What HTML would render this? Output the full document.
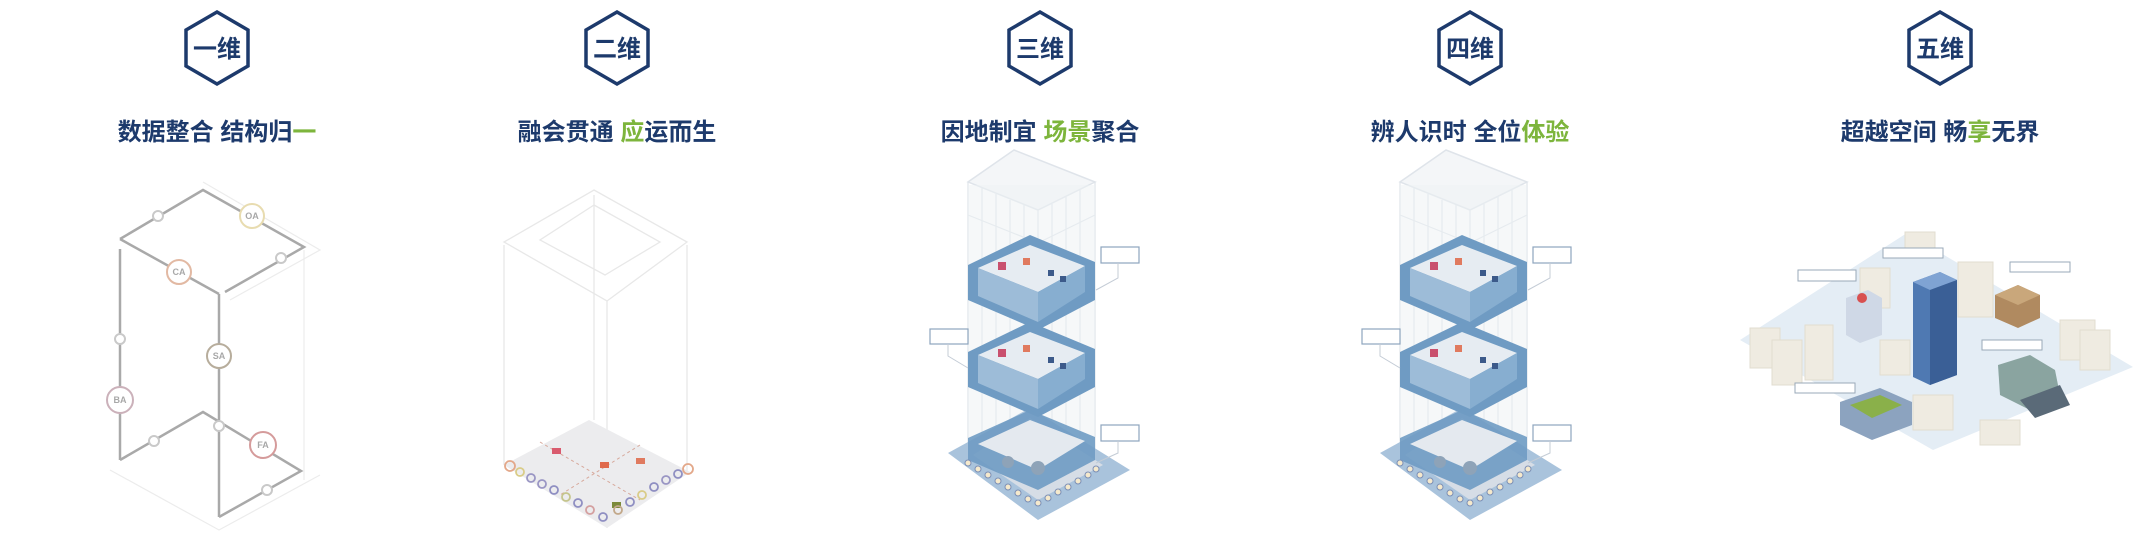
<!DOCTYPE html>
<html><head><meta charset="utf-8"><style>
html,body{margin:0;padding:0;background:#fff;}
svg{display:block}
text{font-family:"Liberation Sans","Noto Sans CJK SC",sans-serif;font-weight:bold;}
</style></head><body>
<svg width="2150" height="542" viewBox="0 0 2150 542" xmlns="http://www.w3.org/2000/svg">
<defs>
<g id="hex"><polygon points="0,-36 31,-18 31,18 0,36 -31,18 -31,-18" fill="#fff" stroke="#1d3a6c" stroke-width="3.5"/></g>
<g id="tower">
  <!-- roof & glass -->
  <polygon points="1446,150 1527,182 1470,210 1400,182" fill="#f4f6f8" stroke="#dfe4ea" stroke-width="1.5"/>
  <g stroke="#dfe4ea" stroke-width="1.2">
    <line x1="1400" y1="182" x2="1400" y2="460"/><line x1="1414" y1="188" x2="1414" y2="465"/><line x1="1428" y1="194" x2="1428" y2="470"/><line x1="1442" y1="200" x2="1442" y2="475"/><line x1="1456" y1="205" x2="1456" y2="480"/><line x1="1470" y1="210" x2="1470" y2="485"/>
    <line x1="1484" y1="204" x2="1484" y2="480"/><line x1="1498" y1="197" x2="1498" y2="475"/><line x1="1512" y1="190" x2="1512" y2="470"/><line x1="1527" y1="182" x2="1527" y2="460"/>
    <line x1="1400" y1="215" x2="1470" y2="243"/><line x1="1470" y1="243" x2="1527" y2="215"/>
  </g>
  <rect x="1400" y="185" width="127" height="280" fill="#eef1f4" opacity="0.5"/>
  <!-- base -->
  <polygon points="1462,408 1562,470 1470,520 1380,453" fill="#a9c3dc"/>
  <polygon points="1462,418 1535,465 1470,500 1405,455" fill="#d6dde6"/>
  <!-- floors -->
  <g id="floor">
    <polygon points="1462,235 1527,262 1527,300 1470,330 1400,300 1400,265" fill="#6f9bc3"/>
    <polygon points="1462,245 1517,266 1470,292 1410,268" fill="#e6ecf2"/>
    <polygon points="1410,268 1470,292 1470,322 1410,296" fill="#9dbcd8"/>
    <polygon points="1470,292 1517,266 1517,292 1470,322" fill="#87aed0"/>
    <rect x="1430" y="262" width="8" height="8" fill="#c9506e"/><rect x="1455" y="258" width="7" height="7" fill="#e07a5f"/><rect x="1480" y="270" width="6" height="6" fill="#3c5a8a"/><rect x="1492" y="276" width="6" height="6" fill="#3c5a8a"/>
  </g>
  <use href="#floor" transform="translate(0,87)"/>
  <polygon points="1462,410 1527,437 1527,460 1470,490 1400,460 1400,438" fill="#6f9bc3" opacity="0.9"/>
  <polygon points="1462,420 1517,441 1470,470 1410,444" fill="#e4e9ef"/>
  <circle cx="1440" cy="462" r="6" fill="#8ea3b8"/><circle cx="1470" cy="468" r="7" fill="#8ea3b8"/>
  <g fill="#f5e9cc" stroke="#7c8fb6" stroke-width="1">
    <circle cx="1400" cy="463" r="3"/><circle cx="1410" cy="469" r="3"/><circle cx="1420" cy="475" r="3"/><circle cx="1430" cy="481" r="3"/><circle cx="1440" cy="487" r="3"/><circle cx="1450" cy="493" r="3"/><circle cx="1460" cy="499" r="3"/><circle cx="1470" cy="503" r="3"/>
    <circle cx="1480" cy="498" r="3"/><circle cx="1490" cy="492" r="3"/><circle cx="1500" cy="487" r="3"/><circle cx="1510" cy="481" r="3"/><circle cx="1520" cy="475" r="3"/><circle cx="1528" cy="469" r="3"/>
  </g>
  <!-- labels -->
  <g fill="#fff" stroke="#8ea5bd" stroke-width="1.2">
    <rect x="1533" y="247" width="38" height="16"/><rect x="1362" y="329" width="38" height="15"/><rect x="1533" y="425" width="38" height="16"/>
  </g>
  <g stroke="#c4ccd6" fill="none" stroke-width="1"><path d="M1550,263 v15 l-22,12"/><path d="M1380,344 v12 l20,12"/><path d="M1550,441 v12 l-22,10"/></g>
</g>
</defs>

<!-- hexagons -->
<use href="#hex" transform="translate(217,48)"/>
<use href="#hex" transform="translate(617,48)"/>
<use href="#hex" transform="translate(1040,48)"/>
<use href="#hex" transform="translate(1470,48)"/>
<use href="#hex" transform="translate(1940,48)"/>
<g font-size="24" fill="#1d3a6c" text-anchor="middle">
<text x="217" y="57">一维</text><text x="617" y="57">二维</text><text x="1040" y="57">三维</text><text x="1470" y="57">四维</text><text x="1940" y="57">五维</text>
</g>
<!-- titles -->
<g font-size="24" fill="#1d3a6c" text-anchor="middle">
<text x="217" y="140">数据整合 结构归<tspan fill="#7db53c">一</tspan></text>
<text x="617" y="140">融会贯通 <tspan fill="#7db53c">应</tspan>运而生</text>
<text x="1040" y="140">因地制宜 <tspan fill="#7db53c">场景</tspan>聚合</text>
<text x="1470" y="140">辨人识时 全位<tspan fill="#7db53c">体验</tspan></text>
<text x="1940" y="140">超越空间 畅<tspan fill="#7db53c">享</tspan>无界</text>
</g>

<!-- column 1 -->
<g stroke="#ececec" stroke-width="1.2" fill="none">
<polyline points="203,182 320,250 230,300"/><line x1="304" y1="250" x2="304" y2="480"/><polyline points="110,470 219,530 320,475"/>
</g>
<g stroke="#a9a9a9" stroke-width="2.5" fill="none">
<polyline points="120,239 203,190 304,247 225,292"/>
<polyline points="120,239 219,294"/>
<line x1="120" y1="249" x2="120" y2="460"/>
<line x1="219" y1="294" x2="219" y2="517"/>
<polyline points="120,460 203,412 301,471 219,517"/>
</g>
<g fill="#fff" stroke-width="2">
<circle cx="252" cy="216" r="12" stroke="#e8dcb0"/><circle cx="179" cy="272" r="12" stroke="#e2b9a3"/><circle cx="219" cy="356" r="12" stroke="#b7ad9c"/><circle cx="120" cy="400" r="13" stroke="#cbb1ba"/><circle cx="263" cy="445" r="13" stroke="#d59b9b"/>
<g stroke="#c9c9c9"><circle cx="158" cy="216" r="5"/><circle cx="281" cy="258" r="5"/><circle cx="120" cy="339" r="5"/><circle cx="154" cy="441" r="5"/><circle cx="219" cy="426" r="5"/><circle cx="267" cy="490" r="5"/></g>
</g>
<g font-size="9" fill="#a8a8a8" text-anchor="middle" font-weight="normal">
<text x="252" y="219">OA</text><text x="179" y="275">CA</text><text x="219" y="359">SA</text><text x="120" y="403">BA</text><text x="263" y="448">FA</text></g>

<!-- column 2 -->
<g stroke="#e8e8e8" stroke-width="1.3" fill="none">
<polygon points="594,190 687,242 607,301 504,242"/><polygon points="594,205 660,242 605,275 540,240"/>
<line x1="504" y1="245" x2="504" y2="465"/><line x1="607" y1="301" x2="607" y2="528"/><line x1="687" y1="245" x2="687" y2="472"/><line x1="594" y1="195" x2="594" y2="420"/>
</g>
<polygon points="589,420 690,472 607,528 504,465" fill="#ececee"/>
<g stroke="#d7a99c" stroke-dasharray="3,3" fill="none"><line x1="540" y1="442" x2="640" y2="500"/><line x1="640" y1="445" x2="560" y2="495"/></g>
<rect x="552" y="448" width="9" height="6" fill="#d95b6e"/><rect x="600" y="462" width="9" height="6" fill="#e06a4c"/><rect x="636" y="458" width="9" height="6" fill="#e07a5f"/><rect x="612" y="502" width="9" height="6" fill="#7b8a3a"/>
<g fill="none" stroke-width="1.8">
<circle cx="510" cy="466" r="5" stroke="#e3a88a"/><circle cx="520" cy="472" r="4" stroke="#d9cc88"/><circle cx="531" cy="478" r="4" stroke="#9a96c4"/><circle cx="542" cy="484" r="4" stroke="#9a96c4"/><circle cx="554" cy="490" r="4" stroke="#8f8fc2"/><circle cx="566" cy="497" r="4" stroke="#c5c58c"/><circle cx="578" cy="503" r="4" stroke="#8f8fc2"/><circle cx="590" cy="510" r="4" stroke="#d4a0a0"/><circle cx="603" cy="517" r="4" stroke="#8f8fc2"/>
<circle cx="618" cy="510" r="4" stroke="#c2a88a"/><circle cx="630" cy="502" r="4" stroke="#8f8fc2"/><circle cx="642" cy="495" r="4" stroke="#d9cc88"/><circle cx="654" cy="487" r="4" stroke="#8f8fc2"/><circle cx="666" cy="480" r="4" stroke="#9a96c4"/><circle cx="678" cy="474" r="4" stroke="#8f8fc2"/><circle cx="688" cy="469" r="5" stroke="#e3a88a"/>
</g>

<!-- columns 3 & 4 -->
<use href="#tower" transform="translate(-432,0)"/>
<use href="#tower"/>

<!-- column 5 city -->
<polygon points="1740,340 1907,233 2133,367 1933,450" fill="#e4edf5"/>
<g fill="#efebe1" stroke="#e2ddd0" stroke-width="1">
<rect x="1750" y="328" width="30" height="40"/><rect x="1772" y="340" width="30" height="45"/><rect x="1805" y="325" width="28" height="55"/>
<rect x="1905" y="232" width="30" height="25"/><rect x="1958" y="262" width="35" height="55"/><rect x="1880" y="340" width="30" height="35"/>
<rect x="2060" y="320" width="35" height="40"/><rect x="2080" y="330" width="30" height="40"/><rect x="1913" y="395" width="40" height="35"/><rect x="1980" y="420" width="40" height="25"/><rect x="1860" y="268" width="30" height="40"/>
</g>
<polygon points="1913,282 1940,272 1957,280 1957,375 1930,385 1913,377" fill="#4f79b2"/>
<polygon points="1913,282 1940,272 1957,280 1930,290" fill="#7fa3d3"/>
<polygon points="1930,290 1957,280 1957,375 1930,385" fill="#3a5f96"/>
<polygon points="1846,298 1868,290 1882,298 1882,335 1860,343 1846,335" fill="#cfd8e6"/><circle cx="1862" cy="298" r="5" fill="#d85050"/>
<polygon points="1995,295 2018,285 2040,295 2040,318 2018,328 1995,318" fill="#b08a60"/><polygon points="1995,295 2018,285 2040,295 2018,305" fill="#c9a77b"/>
<polygon points="1840,402 1880,388 1912,402 1912,425 1872,440 1840,425" fill="#8ca3bf"/><polygon points="1850,405 1880,395 1902,405 1872,418" fill="#8ab04a"/>
<polygon points="1998,365 2030,355 2055,370 2060,395 2030,410 2000,395" fill="#8aa4a0"/><polygon points="2020,400 2060,385 2070,405 2035,418" fill="#5a6a78"/>
<g fill="#fff" stroke="#9aa9b8" stroke-width="1">
<rect x="1798" y="270" width="58" height="11"/><rect x="1883" y="248" width="60" height="10"/><rect x="2010" y="262" width="60" height="10"/><rect x="1982" y="340" width="60" height="10"/><rect x="1795" y="383" width="60" height="10"/>
</g>
</svg>
</body></html>
